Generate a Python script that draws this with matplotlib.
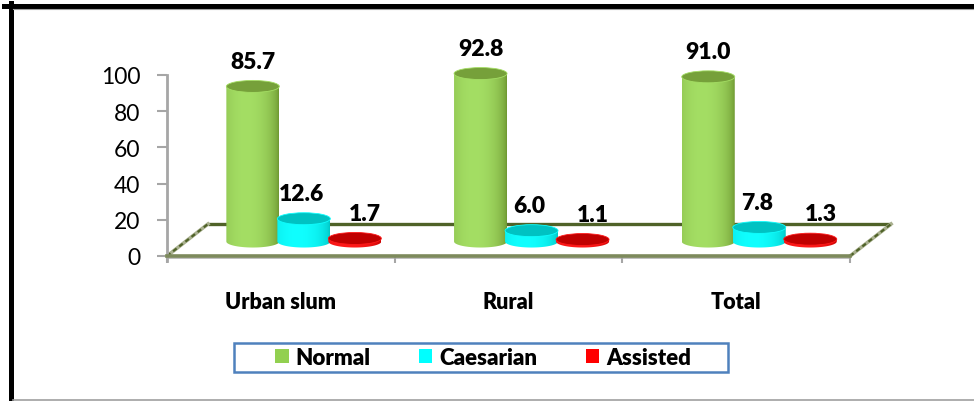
import numpy as np
import matplotlib
matplotlib.use("Agg")
import matplotlib.pyplot as plt
from matplotlib.patches import Polygon, Ellipse, Patch, Rectangle
from matplotlib.lines import Line2D

plt.rcParams['font.family'] = ['Lato', 'DejaVu Sans']

categories = ["Urban slum", "Rural", "Total"]
series = ["Normal", "Caesarian", "Assisted"]
normal = [85.7, 92.8, 91.0]
caesarian = [12.6, 6.0, 7.8]
assisted = [1.7, 1.1, 1.3]

# body colours: (edge shade, highlight), plus the colour of the cylinder cap
body_dark = ["#6b942e", "#00c4c4", "#c40000"]
body_light = ["#a4de64", "#10ffff", "#ff1a1a"]
cap_color = ["#76a03a", "#00c2c2", "#c00000"]
legend_color = ["#92d050", "#00ffff", "#ff0000"]

BOLD = "heavy"

W, H = 974, 402
fig = plt.figure(figsize=(W / 100, H / 100), dpi=100)
ax = fig.add_axes([0, 0, 1, 1])

# pixel layout of the plot: front-left floor corner, category width, value scale
x0_px, y0_px = 167, 257
px_cat, px_val = 227.7, 1.81
xlim = (-0.5 - x0_px / px_cat, -0.5 + (W - x0_px) / px_cat)
ylim = (-(H - y0_px) / px_val, y0_px / px_val)


def fx(px):
    return px / W


def fy(py):
    return 1 - py / H


# floor (parallelogram seen in perspective)
depth_x, depth_y = 41 / px_cat, 32 / px_val
floor = Polygon([(-0.5, 0), (2.5, 0), (2.5 + depth_x, depth_y), (-0.5 + depth_x, depth_y)],
                closed=True, facecolor="white", edgecolor="none", zorder=1)
ax.add_patch(floor)
ax.plot([-0.5 + depth_x, 2.5 + depth_x], [depth_y, depth_y], color="#4f6228", lw=2.4,
        solid_capstyle="butt", zorder=2)
for xs in (-0.5, 2.5):
    ax.plot([xs, xs + depth_x], [0, depth_y], color="#a9b08f", lw=2.6, zorder=2)
    ax.plot([xs, xs + depth_x], [0, depth_y], color="#4f6228", lw=1.6,
            dashes=(2, 1.5), zorder=2)

# cylinders
base = 8.0
bar_w = 53 / px_cat
step = 51 / px_cat
shift = 23 / px_cat
cap_h = 12 / px_val
label_dx = [0, -0.01, 0.045]

u = np.linspace(0, 1, 200)
shade = np.clip(1 - ((u - 0.38) / 0.62) ** 2, 0, 1) ** 0.6

for i in range(len(categories)):
    for j, vals in enumerate([normal, caesarian, assisted]):
        v = vals[i]
        cx = i + shift + (j - 1) * step
        left, right = cx - bar_w / 2, cx + bar_w / 2
        top = base + v

        dark = np.array(matplotlib.colors.to_rgb(body_dark[j]))
        light = np.array(matplotlib.colors.to_rgb(body_light[j]))
        grad = dark[None, :] + (light - dark)[None, :] * shade[:, None]

        t = np.linspace(np.pi, 2 * np.pi, 60)
        outline = np.column_stack([cx + bar_w / 2 * np.cos(t), base + cap_h / 2 * np.sin(t)])
        outline = np.vstack([outline, [[right, top], [left, top]]])
        clip = Polygon(outline, closed=True, facecolor="none", edgecolor="none")
        ax.add_patch(clip)
        img = ax.imshow(grad[None, :, :], extent=[left, right, base - cap_h / 2, top],
                        aspect="auto", interpolation="bilinear", zorder=3 + j)
        img.set_clip_path(clip)

        ax.add_patch(Ellipse((cx, top), bar_w, cap_h, facecolor=cap_color[j],
                             edgecolor=body_light[j], lw=0.6, zorder=3 + j))

        ax.text(cx + label_dx[j], top + 14, f"{v:.1f}", ha="center", va="center",
                fontsize=16.5, fontweight=BOLD, color="black", zorder=10)

# value axis
ax.spines[["top", "right"]].set_visible(False)
ax.spines["left"].set_position(("data", -0.5))
ax.spines["left"].set_bounds(-5 / px_val, 100)
ax.spines["left"].set_color("#a6a6a6")
ax.spines["left"].set_linewidth(2)
ax.set_yticks(range(0, 101, 20))
ax.tick_params(axis="y", direction="out", length=7.2, width=1.5, color="#a6a6a6",
               labelsize=16.5, pad=12)

# category axis along the front edge of the floor
ax.spines["bottom"].set_position(("data", 0))
ax.spines["bottom"].set_bounds(-0.5, 2.5)
ax.spines["bottom"].set_color("#7d8a5c")
ax.spines["bottom"].set_linewidth(2.6)
ax.plot([-0.5, 2.5], [-1.3, -1.3], color="#b4b4b4", lw=1.2, zorder=1)
ax.set_xticks([-0.5, 0.5, 1.5, 2.5])
ax.set_xticklabels([])
ax.set_xticks(range(len(categories)), categories, minor=True)
ax.tick_params(axis="x", which="major", direction="out", length=5, width=1.5, color="#a6a6a6")
ax.tick_params(axis="x", which="minor", length=0, pad=25, labelsize=15.5)
for lab in ax.get_xticklabels(minor=True):
    lab.set_fontweight(BOLD)

ax.set_xlim(*xlim)
ax.set_ylim(*ylim)
ax.set_facecolor("none")

# legend
handles = [Patch(facecolor=c, edgecolor="none", label=s) for c, s in zip(legend_color, series)]
fig.legend(handles=handles, ncol=3, loc="center", bbox_to_anchor=(fx(483), fy(358.5)),
           frameon=False, prop={"size": 16, "weight": BOLD}, handlelength=0.6,
           handleheight=0.6, handletextpad=0.3, columnspacing=2.2, borderpad=0)
fig.add_artist(Rectangle((fx(234), fy(373)), fx(494), 29 / H, transform=fig.transFigure,
                         fill=False, edgecolor="#4f81bd", lw=1.8))

# outer frame
fig.add_artist(Line2D([fx(10.5), fx(10.5)], [fy(4), fy(402)], color="black", lw=3.6,
                      transform=fig.transFigure))
fig.add_artist(Line2D([fx(4), fx(974)], [fy(6.5), fy(6.5)], color="black", lw=3.6,
                      transform=fig.transFigure))
fig.add_artist(Line2D([fx(13), fx(974)], [fy(9.5), fy(9.5)], color="#a0a0a0", lw=0.8,
                      transform=fig.transFigure))
fig.add_artist(Line2D([fx(13), fx(974)], [fy(400.5), fy(400.5)], color="#a0a0a0", lw=1.2,
                      transform=fig.transFigure))

fig.savefig("out.png", dpi=100)
